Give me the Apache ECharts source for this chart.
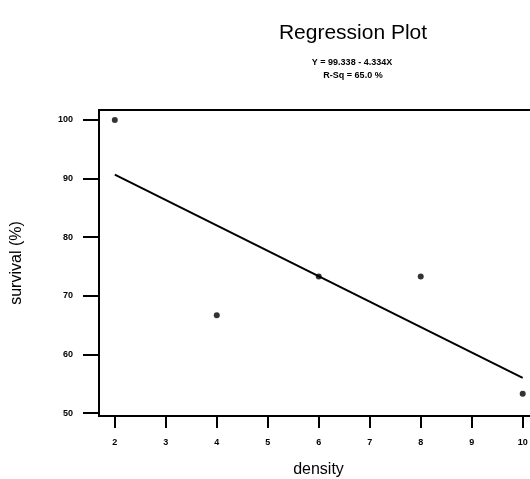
<!DOCTYPE html>
<html>
<head>
<meta charset="utf-8">
<script src="https://cdn.jsdelivr.net/npm/echarts@6/dist/echarts.min.js"></script>
<style>
  html, body { margin: 0; padding: 0; background: #fff; }
  #chart { width: 530px; height: 479px; }
</style>
</head>
<body>
<div id="chart"></div>
<script>
// Observed data: density vs survival (%)
const density = [2, 4, 6, 8, 10];
const survival = [100, 66.7, 73.3, 73.3, 53.3];

// Fitted line coefficients (as printed in the header)
const intercept = 99.338;
const slope = -4.334;
const rSq = 65.0;
const fitX = [2, 10];

// Tick labels
const xTicks = [2, 3, 4, 5, 6, 7, 8, 9, 10];
const yTicks = [50, 60, 70, 80, 90, 100];

const points = density.map((d, i) => [d, survival[i]]);
const fitLine = fitX.map(x => [x, intercept + slope * x]);

const font = '"Liberation Sans", Arial, sans-serif';
const chart = echarts.init(document.getElementById('chart'), null, { renderer: 'canvas' });

chart.setOption({
  backgroundColor: '#fff',
  animation: false,
  title: [
    {
      text: 'Regression Plot',
      left: 348, top: 18, textAlign: 'center',
      textStyle: { fontFamily: font, fontSize: 21, fontWeight: 'normal', color: '#000' }
    },
    {
      text: 'Y = ' + intercept.toFixed(3) + ' - ' + Math.abs(slope).toFixed(3) + 'X',
      left: 347, top: 53, textAlign: 'center',
      textStyle: { fontFamily: font, fontSize: 9, fontWeight: 'bold', color: '#000' }
    },
    {
      text: 'R-Sq = ' + rSq.toFixed(1) + ' %',
      left: 348, top: 66, textAlign: 'center',
      textStyle: { fontFamily: font, fontSize: 9, fontWeight: 'bold', color: '#000' }
    }
  ],
  grid: {
    left: 99, top: 110, width: 439, height: 306,
    containLabel: false, outerBoundsMode: 'none',
    show: true, borderColor: '#000', borderWidth: 2, backgroundColor: 'transparent'
  },
  xAxis: {
    type: 'value', min: 1.69, max: 10.3,
    name: 'density', nameLocation: 'middle', nameGap: 46,
    nameTextStyle: { fontFamily: font, fontSize: 16, color: '#000' },
    axisLine: { show: true, lineStyle: { color: '#000', width: 2 } },
    axisTick: { show: true, length: 12, lineStyle: { color: '#000', width: 2 }, customValues: xTicks },
    axisLabel: { fontFamily: font, fontSize: 9, fontWeight: 'bold', color: '#000', margin: 22, customValues: xTicks },
    splitLine: { show: false }
  },
  yAxis: {
    type: 'value', min: 49.5, max: 101.7,
    name: 'survival (%)', nameLocation: 'middle', nameGap: 74, nameRotate: 90,
    nameTextStyle: { fontFamily: font, fontSize: 16, color: '#000' },
    axisLine: { show: true, lineStyle: { color: '#000', width: 2 } },
    axisTick: { show: true, length: 16, lineStyle: { color: '#000', width: 2 }, customValues: yTicks },
    axisLabel: { fontFamily: font, fontSize: 9, fontWeight: 'bold', color: '#000', margin: 26, customValues: yTicks },
    splitLine: { show: false }
  },
  series: [
    {
      type: 'line', data: fitLine, showSymbol: false, silent: true,
      lineStyle: { color: '#000', width: 2 }
    },
    {
      type: 'scatter', data: points, symbol: 'circle', symbolSize: 6,
      itemStyle: { color: '#000' }
    }
  ]
});
</script>
</body>
</html>
